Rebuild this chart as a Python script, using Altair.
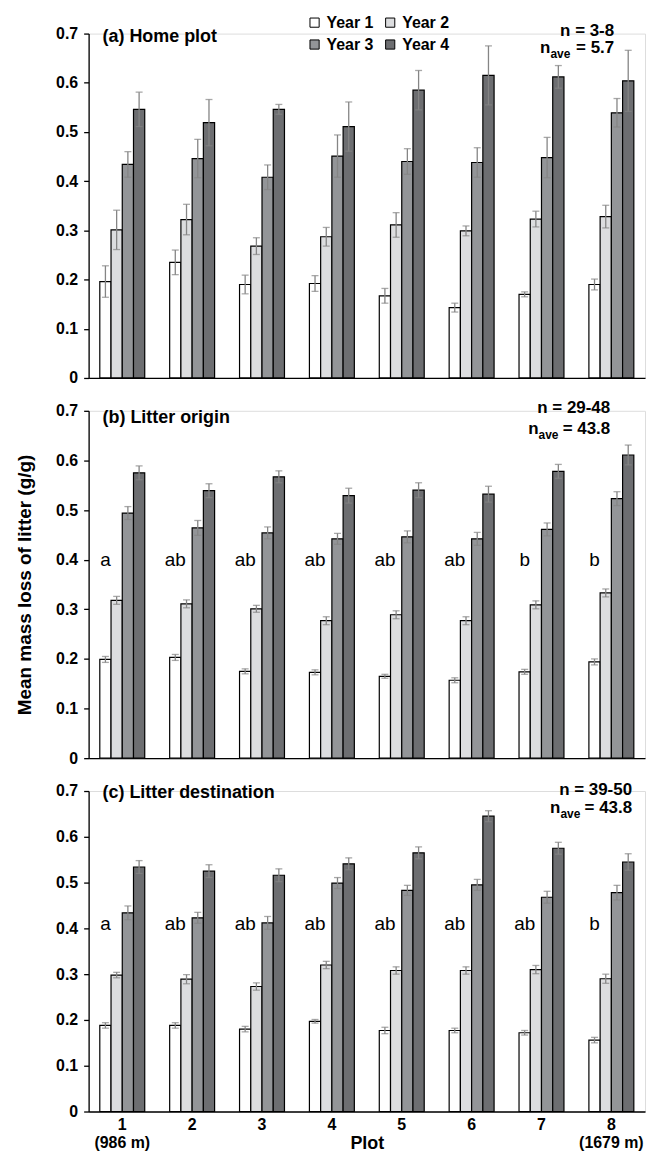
import altair as alt
import pandas as pd

plots = ["1", "2", "3", "4", "5", "6", "7", "8"]
years = ["Year 1", "Year 2", "Year 3", "Year 4"]
colors = ["#ffffff", "#dcdddf", "#939598", "#6d6e71"]
yticks = [0, 0.1, 0.2, 0.3, 0.4, 0.5, 0.6, 0.7]

# (a) Home plot
a_mean = [
    [0.196, 0.235, 0.190, 0.192, 0.167, 0.143, 0.170, 0.190],
    [0.301, 0.322, 0.268, 0.287, 0.311, 0.299, 0.323, 0.328],
    [0.434, 0.446, 0.408, 0.451, 0.440, 0.438, 0.448, 0.539],
    [0.546, 0.519, 0.546, 0.511, 0.585, 0.615, 0.612, 0.604],
]
a_err = [
    [0.032, 0.025, 0.019, 0.016, 0.015, 0.009, 0.005, 0.011],
    [0.040, 0.031, 0.017, 0.019, 0.025, 0.010, 0.016, 0.023],
    [0.026, 0.039, 0.025, 0.043, 0.026, 0.030, 0.041, 0.029],
    [0.035, 0.047, 0.010, 0.050, 0.040, 0.060, 0.023, 0.062],
]
# (b) Litter origin
b_mean = [
    [0.199, 0.203, 0.175, 0.173, 0.165, 0.157, 0.174, 0.194],
    [0.318, 0.311, 0.301, 0.277, 0.289, 0.277, 0.309, 0.333],
    [0.494, 0.464, 0.454, 0.442, 0.446, 0.442, 0.461, 0.523],
    [0.575, 0.539, 0.567, 0.529, 0.540, 0.532, 0.578, 0.611],
]
b_err = [
    [0.006, 0.006, 0.005, 0.005, 0.004, 0.005, 0.005, 0.006],
    [0.008, 0.008, 0.007, 0.008, 0.008, 0.008, 0.008, 0.008],
    [0.013, 0.015, 0.012, 0.011, 0.012, 0.013, 0.013, 0.014],
    [0.014, 0.014, 0.012, 0.015, 0.015, 0.016, 0.014, 0.020],
]
b_letters = ["a", "ab", "ab", "ab", "ab", "ab", "b", "b"]
# (c) Litter destination
c_mean = [
    [0.188, 0.188, 0.180, 0.197, 0.177, 0.177, 0.172, 0.156],
    [0.298, 0.289, 0.273, 0.320, 0.308, 0.308, 0.310, 0.290],
    [0.434, 0.423, 0.412, 0.499, 0.483, 0.495, 0.468, 0.478],
    [0.534, 0.525, 0.516, 0.541, 0.565, 0.645, 0.575, 0.545],
]
c_err = [
    [0.006, 0.006, 0.006, 0.004, 0.007, 0.005, 0.005, 0.006],
    [0.006, 0.010, 0.008, 0.008, 0.008, 0.008, 0.009, 0.010],
    [0.015, 0.012, 0.014, 0.012, 0.011, 0.012, 0.013, 0.016],
    [0.014, 0.014, 0.014, 0.013, 0.013, 0.012, 0.013, 0.018],
]
c_letters = ["a", "ab", "ab", "ab", "ab", "ab", "ab", "b"]

FONT = "Liberation Sans, Arial, sans-serif"
ERR = "#858585"
YTITLE = "Mean mass loss of litter (g/g)"


def make_df(means, errs):
    rows = []
    for yi, yr in enumerate(years):
        for pi, p in enumerate(plots):
            m = means[yi][pi]
            e = errs[yi][pi]
            rows.append({"plot": p, "year": yr, "mean": m, "lo": m - e, "hi": m + e})
    return pd.DataFrame(rows)


def one_text(txt, x, y, size, align="left", weight="bold"):
    return alt.Chart(pd.DataFrame({"t": [txt]})).mark_text(
        align=align, baseline="alphabetic", font=FONT, fontSize=size,
        fontWeight=weight, color="black"
    ).encode(text="t:N", x=alt.value(x), y=alt.value(y))


def panel(means, errs, letters, letter_y, title, title_y, n_txt, nave_val,
          n_right, n_base, nave_base, nave_n_x, height, first, last, ytitle):
    df = make_df(means, errs)
    xaxis = alt.Axis(
        labels=last, ticks=False, domain=True, domainColor="black", domainWidth=1.3,
        labelAngle=0, labelFont=FONT, labelFontSize=16, labelFontWeight="bold",
        labelColor="black", labelPadding=5, labelLineHeight=18,
        labelExpr="datum.label == '1' ? ['1', '(986 m)'] : (datum.label == '8' ? ['8', '(1679 m)'] : datum.label)",
        titleFont=FONT, titleFontSize=18, titleFontWeight="bold", titleColor="black",
        titleY=37, titleBaseline="alphabetic",
    )
    x = alt.X("plot:N", sort=plots, title=("Plot" if last else None), axis=xaxis,
              scale=alt.Scale(paddingInner=0.357, paddingOuter=0.16))
    xo = alt.XOffset("year:N", sort=years, scale=alt.Scale(paddingInner=0, paddingOuter=0))
    yaxis = alt.Axis(
        values=yticks, format="~g", grid=False, domainColor="black", domainWidth=1.3,
        tickColor="black", tickWidth=1.3, tickSize=5, labelFont=FONT, labelFontSize=16,
        labelFontWeight="bold", labelColor="black", labelPadding=6,
        titleFont=FONT, titleFontSize=19, titleFontWeight="bold", titleColor="black",
        titlePadding=21,
    )
    yscale = alt.Scale(domain=[0, 0.7], nice=False)
    ttl = YTITLE if ytitle else None
    if first:
        legend = alt.Legend(
            orient="none", legendX=219, legendY=-19, columns=2, direction="horizontal",
            title=None, symbolType="square", symbolSize=85, symbolStrokeColor="black",
            symbolStrokeWidth=1, symbolOpacity=1, labelFont=FONT, labelFontSize=16,
            labelFontWeight="bold", labelColor="black", labelOffset=4,
            columnPadding=8, rowPadding=6,
        )
    else:
        legend = None
    fill = alt.Fill("year:N", sort=years, scale=alt.Scale(domain=years, range=colors),
                    legend=legend)

    bars = alt.Chart(df).mark_bar(stroke="black", strokeWidth=1.2, opacity=1).encode(
        x=x, xOffset=xo, y=alt.Y("mean:Q", scale=yscale, axis=yaxis, title=ttl), fill=fill
    )
    rules = alt.Chart(df).mark_rule(color=ERR, strokeWidth=1.3).encode(
        x=x, xOffset=xo, y=alt.Y("lo:Q", scale=yscale, axis=yaxis, title=ttl), y2="hi:Q"
    )
    cap_hi = alt.Chart(df).mark_tick(color=ERR, size=7, thickness=1.3).encode(
        x=x, xOffset=xo, y=alt.Y("hi:Q", scale=yscale, axis=yaxis, title=ttl)
    )
    cap_lo = alt.Chart(df).mark_tick(color=ERR, size=7, thickness=1.3).encode(
        x=x, xOffset=xo, y=alt.Y("lo:Q", scale=yscale, axis=yaxis, title=ttl)
    )
    layers = [bars, rules, cap_hi, cap_lo]
    if letters is not None:
        ldf = pd.DataFrame({"plot": plots, "year": ["Year 1"] * 8,
                            "ly": [letter_y] * 8, "txt": letters})
        ltxt = alt.Chart(ldf).mark_text(
            font=FONT, fontSize=19, fontWeight="normal", color="black",
            baseline="middle", align="center"
        ).encode(x=x, xOffset=xo,
                 y=alt.Y("ly:Q", scale=yscale, axis=yaxis, title=ttl), text="txt:N")
        layers.append(ltxt)
    layers.append(one_text(title, 14, title_y, 18))
    layers.append(one_text(n_txt, n_right, n_base, 17, align="right"))
    layers.append(one_text("n", nave_n_x, nave_base, 17, align="right"))
    layers.append(one_text("ave", nave_n_x, nave_base + 5, 12, align="left"))
    layers.append(one_text("= " + nave_val, n_right, nave_base, 17, align="right"))
    return alt.layer(*layers).properties(width=559, height=height)


pa = panel(a_mean, a_err, None, 0.4, "(a) Home plot", 8, "n = 3-8", "5.7",
           528, 2, 20, 464, 346, True, False, False)
pb = panel(b_mean, b_err, b_letters, 0.40, "(b) Litter origin", 12, "n = 29-48", "43.8",
           524, 2, 23, 452, 349, False, False, True)
pc = panel(c_mean, c_err, c_letters, 0.41, "(c) Litter destination", 7, "n = 39-50", "43.8",
           546, 4, 22, 474, 322, False, True, False)

chart = alt.vconcat(pa, pb, pc, spacing=33, bounds="flush").resolve_scale(
    fill="independent"
).properties(
    padding={"left": 7, "top": 3, "right": 0, "bottom": 2}
).configure_view(stroke=None).configure(background="white")

chart.save("out.html", embed_options={"renderer": "svg", "actions": False})
